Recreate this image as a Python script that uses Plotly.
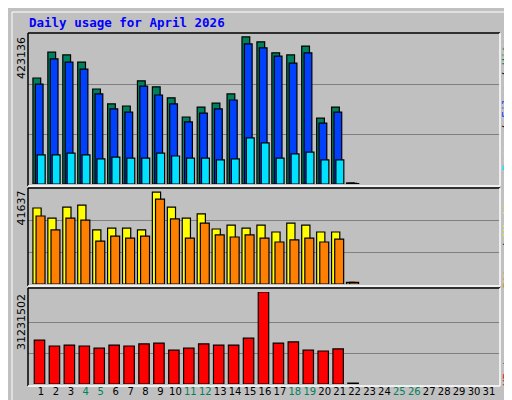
import plotly.graph_objects as go

days = list(range(1, 32))
hits = [299e3,372e3,364e3,344e3,268e3,226e3,220e3,291e3,274e3,243e3,189e3,217e3,228e3,254e3,415e3,401e3,370e3,364e3,389e3,186e3,217e3,3e3]
files = [282e3,353e3,344e3,324e3,254e3,212e3,203e3,276e3,251e3,226e3,175e3,200e3,212e3,237e3,395e3,384e3,361e3,341e3,370e3,172e3,203e3,2e3]
pages = [82e3,82e3,87e3,82e3,71e3,76e3,73e3,73e3,87e3,79e3,73e3,73e3,68e3,71e3,130e3,116e3,73e3,85e3,90e3,68e3,68e3,1e3]
visits = [33.3e3,28.9e3,33.7e3,34.6e3,23.7e3,24.5e3,24.5e3,23.7e3,40.3e3,33.7e3,28.9e3,30.7e3,24.1e3,25.8e3,24.5e3,25.8e3,22.8e3,26.7e3,25.8e3,22.8e3,22.8e3,0.7e3]
sites = [29.8e3,23.7e3,28.9e3,28.0e3,18.8e3,21.0e3,20.1e3,21.0e3,37.2e3,28.5e3,20.1e3,26.7e3,21.5e3,20.6e3,21.5e3,20.1e3,18.4e3,19.3e3,20.1e3,18.4e3,19.7e3,0.7e3]
kbytes = [14.9e6,12.9e6,13.2e6,12.9e6,12.2e6,13.2e6,12.9e6,13.6e6,13.9e6,11.5e6,12.2e6,13.6e6,13.2e6,13.2e6,15.6e6,31231502,13.9e6,14.3e6,11.5e6,11.2e6,11.9e6,0.3e6]
max_hits, max_visits, max_kb = 423136, 41637, 31231502
weekend = {4,5,11,12,18,19,25,26}
title = "Daily usage for April 2026"

GREEN, BLUE, CYAN = "#00805C", "#0040FF", "#00E0FF"
YELLOW, ORANGE, RED = "#FFFF00", "#FF8000", "#FF0000"
W, H = 512, 400
def py(p): return 1 - p / H
def px(p): return p / W

fig = go.Figure()
x = days[:len(hits)]
def bar(y, color, off, w, ax):
    fig.add_trace(go.Bar(x=x, y=y, offset=off, width=w, marker=dict(color=color, line=dict(color="black", width=1.2)),
                         xaxis="x" if ax == 1 else f"x{ax}", yaxis="y" if ax == 1 else f"y{ax}", showlegend=False))
bar(hits, GREEN, -0.54, 0.52, 1)
bar(files, BLUE, -0.38, 0.52, 1)
bar(pages, CYAN, -0.25, 0.53, 1)
bar(visits, YELLOW, -0.54, 0.55, 2)
bar(sites, ORANGE, -0.33, 0.6, 2)
bar(kbytes, RED, -0.45, 0.7, 3)

xr = [0.13, 31.74]
xd = [px(20), px(492)]
ticktext = [f'<span style="color:{GREEN if d in weekend else "black"}">{d}</span>' for d in days]
common_x = dict(range=xr, domain=xd, showgrid=False, zeroline=False, fixedrange=True, automargin=False)
common_y = dict(showticklabels=False, gridcolor="#808080", zeroline=False, automargin=False)
fig.update_layout(
    width=W, height=H, margin=dict(l=0, r=0, t=0, b=0, autoexpand=False),
    paper_bgcolor="#C0C0C0", plot_bgcolor="#C0C0C0", barmode="overlay",
    xaxis=dict(**common_x, anchor="y", showticklabels=False),
    xaxis2=dict(**common_x, anchor="y2", showticklabels=False),
    xaxis3=dict(**common_x, anchor="y3", tickvals=days, ticktext=ticktext, ticks="", tickangle=0,
                tickfont=dict(family="DejaVu Sans", size=10, color="black")),
    yaxis=dict(domain=[py(176), py(26)], range=[0, max_hits], tickvals=[max_hits/3, 2*max_hits/3], **common_y),
    yaxis2=dict(domain=[py(276), py(181)], range=[0, max_visits], tickvals=[max_visits/3, 2*max_visits/3], **common_y),
    yaxis3=dict(domain=[py(376), py(284)], range=[0, max_kb], tickvals=[max_kb/3, 2*max_kb/3], **common_y),
)

shapes = []
def line(x0, y0, x1, y1, c, w=1):
    shapes.append(dict(type="line", xref="paper", yref="paper", x0=px(x0), y0=py(y0), x1=px(x1), y1=py(y1),
                       line=dict(color=c, width=w)))
line(4, 4, 505, 4, "white"); line(4, 4, 4, 393, "white")
shapes.append(dict(type="rect", xref="paper", yref="paper", x0=px(505), x1=1, y0=0, y1=py(0), fillcolor="#808080", line_width=0))
shapes.append(dict(type="rect", xref="paper", yref="paper", x0=0, x1=1, y0=0, y1=py(393), fillcolor="#808080", line_width=0))
for top, bot in [(25, 178), (180, 278), (280, 378)]:
    line(20, top, 492, top, "black", 1.5); line(20, top, 20, bot, "black", 1.5)
    line(20, bot, 492, bot, "white", 1.5); line(492, top, 492, bot, "white", 1.5)
fig.update_layout(shapes=shapes)

mono = "DejaVu Sans Mono"
ann = [
    dict(x=px(19), y=py(15), text=f"<b>{title}</b>", xanchor="left", yanchor="middle",
         font=dict(family=mono, size=12.5, color="#0000FF")),
    dict(x=px(13), y=py(27), text=str(max_hits), textangle=-90, xanchor="center", yanchor="top",
         font=dict(family="DejaVu Sans", size=11, color="black")),
    dict(x=px(13), y=py(181), text=str(max_visits), textangle=-90, xanchor="center", yanchor="top",
         font=dict(family="DejaVu Sans", size=11, color="black")),
    dict(x=px(13), y=py(284), text=str(max_kb), textangle=-90, xanchor="center", yanchor="top",
         font=dict(family="DejaVu Sans", size=11, color="black")),
    dict(x=px(499), y=py(97), textangle=-90, xanchor="center", yanchor="middle",
         text=f'<span style="color:{CYAN}">Pages</span> / <span style="color:{BLUE}">Files</span> / <span style="color:{GREEN}">Hits</span>',
         font=dict(family=mono, size=11, color="black")),
    dict(x=px(499), y=py(235), textangle=-90, xanchor="center", yanchor="middle",
         text=f'<span style="color:{ORANGE}">Sites</span> / <span style="color:{YELLOW}">Visits</span>',
         font=dict(family=mono, size=11, color="black")),
    dict(x=px(499), y=py(358), textangle=-90, xanchor="center", yanchor="middle",
         text="KBytes", font=dict(family=mono, size=11, color=RED)),
]
for a in ann:
    a.update(xref="paper", yref="paper", showarrow=False)
fig.update_layout(annotations=ann)
fig.write_html("out.html")
